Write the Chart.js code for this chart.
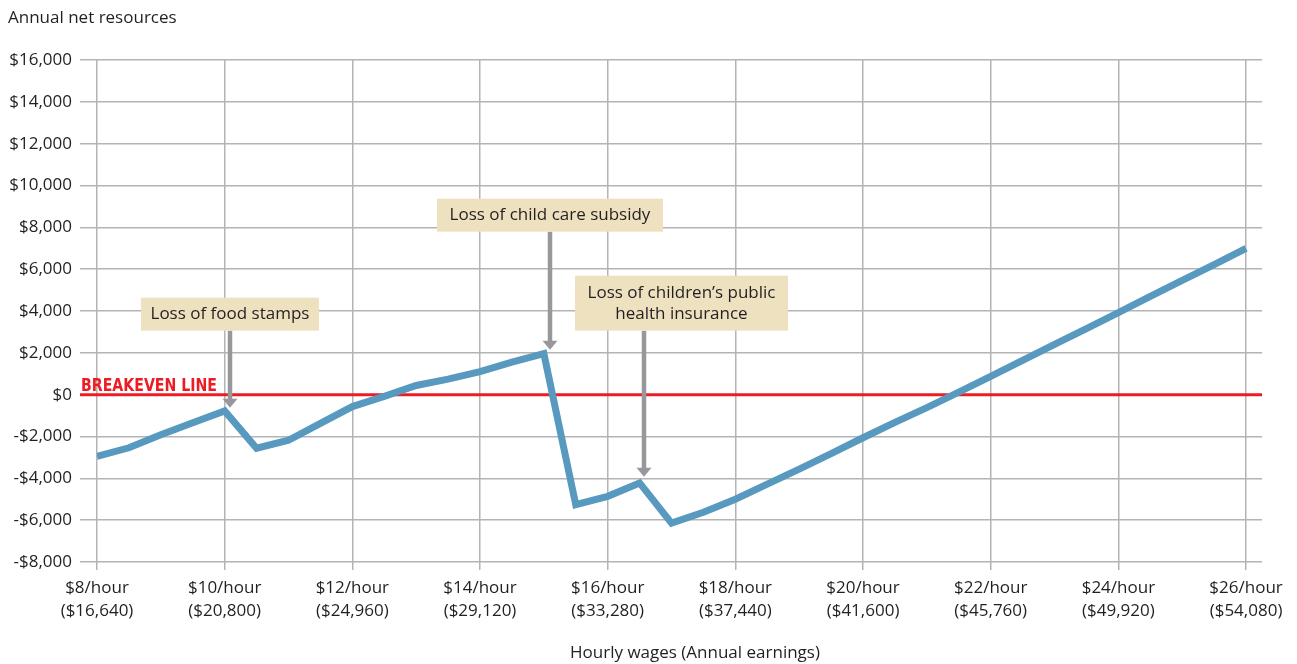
<!DOCTYPE html>
<html>
<head>
<meta charset="utf-8">
<script src="https://cdn.jsdelivr.net/npm/chart.js@4"></script>
<style>
  html, body { margin: 0; padding: 0; background: #ffffff; }
  #wrap { width: 1297px; height: 664px; position: relative; }
</style>
</head>
<body>
<div id="wrap"><canvas id="c"></canvas></div>
<script>
// ---- data ----
const hourlyWages = [8, 8.5, 9, 9.5, 10, 10.5, 11, 11.5, 12, 12.5, 13, 13.5, 14, 14.5, 15, 15.5, 16, 16.5, 17, 17.5, 18,
  18.5, 19, 19.5, 20, 20.5, 21, 21.5, 22, 22.5, 23, 23.5, 24, 24.5, 25, 25.5, 26];
const netResources = [-2950, -2540, -1920, -1340, -780, -2560, -2180, -1370, -570, -80, 440, 740, 1100, 1560, 1960,
  -5260, -4860, -4220, -6140, -5620, -5000, -4280, -3560, -2820, -2060, -1320, -620, 120, 880, 1640, 2400, 3160, 3920,
  4700, 5460, 6220, 6990];

const xTickValues = [8, 10, 12, 14, 16, 18, 20, 22, 24, 26];
const xTickHourLabels = ['$8/hour', '$10/hour', '$12/hour', '$14/hour', '$16/hour', '$18/hour', '$20/hour', '$22/hour', '$24/hour', '$26/hour'];
const xTickAnnualLabels = ['($16,640)', '($20,800)', '($24,960)', '($29,120)', '($33,280)', '($37,440)', '($41,600)', '($45,760)', '($49,920)', '($54,080)'];

const yTickValues = [-8000, -6000, -4000, -2000, 0, 2000, 4000, 6000, 8000, 10000, 12000, 14000, 16000];
const yTickLabels = ['-$8,000', '-$6,000', '-$4,000', '-$2,000', '$0', '$2,000', '$4,000', '$6,000', '$8,000', '$10,000', '$12,000', '$14,000', '$16,000'];

const yAxisTitle = 'Annual net resources';
const xAxisTitle = 'Hourly wages (Annual earnings)';
const breakevenLabel = 'BREAKEVEN LINE';
const breakevenValue = 0;

// annotation: arrow x (wage), arrow tip (value), box top/bottom (value), box centre x (wage)
const annotationTexts = [['Loss of food stamps'], ['Loss of child care subsidy'], ['Loss of children\u2019s public', 'health insurance']];
const annotationArrowX = [10.083, 15.096, 16.568];
const annotationTipY = [-620, 2150, -3920];
const annotationBoxTop = [4637, 9370, 5689];
const annotationBoxBottom = [3060, 7793, 3060];
const annotationBoxCenterX = [10.083, 15.096, 17.156];
const annotationBoxWidth = [178, 226, 213];

// ---- styling ----
const FONT = '"Open Sans", "Liberation Sans", sans-serif';
const TEXT = '#231f20';
const GRID = '#b4b4b4';

const points = hourlyWages.map((w, i) => ({ x: w, y: netResources[i] }));

const overlay = {
  id: 'overlay',
  beforeDatasetsDraw(chart) {
    const { ctx, chartArea, scales } = chart;
    const y0 = scales.y.getPixelForValue(breakevenValue);
    ctx.save();
    ctx.strokeStyle = '#ed1c24';
    ctx.lineWidth = 3;
    ctx.beginPath();
    ctx.moveTo(chartArea.left - 17, y0);
    ctx.lineTo(chartArea.right, y0);
    ctx.stroke();
    // label
    ctx.font = 'bold 17px "Liberation Sans Narrow", "DejaVu Sans Condensed", "Liberation Sans", sans-serif';
    const w = ctx.measureText(breakevenLabel).width;
    const target = 136;
    ctx.translate(chartArea.left - 16, y0 - 4);
    ctx.scale(target / w, 1);
    ctx.fillStyle = '#ed1c24';
    ctx.textAlign = 'left';
    ctx.textBaseline = 'alphabetic';
    ctx.fillText(breakevenLabel, 0, 0);
    ctx.restore();
  },
  afterDatasetsDraw(chart) {
    const { ctx, scales } = chart;
    const xs = scales.x, ys = scales.y;
    ctx.save();
    annotationTexts.forEach((lines, i) => {
      const ax = Math.round(xs.getPixelForValue(annotationArrowX[i]));
      const tip = ys.getPixelForValue(annotationTipY[i]);
      const top = ys.getPixelForValue(annotationBoxTop[i]);
      const bot = ys.getPixelForValue(annotationBoxBottom[i]);
      const cx = xs.getPixelForValue(annotationBoxCenterX[i]);
      const bw = annotationBoxWidth[i];
      // arrow
      ctx.strokeStyle = '#98989c';
      ctx.fillStyle = '#98989c';
      ctx.lineWidth = 4.5;
      ctx.beginPath();
      ctx.moveTo(ax, bot);
      ctx.lineTo(ax, tip - 8);
      ctx.stroke();
      ctx.beginPath();
      ctx.moveTo(ax - 7.5, tip - 9);
      ctx.lineTo(ax + 7.5, tip - 9);
      ctx.lineTo(ax, tip);
      ctx.closePath();
      ctx.fill();
      // box
      ctx.fillStyle = '#ede1c0';
      ctx.fillRect(cx - bw / 2, top, bw, bot - top);
      ctx.fillStyle = TEXT;
      ctx.font = '17px ' + FONT;
      ctx.textAlign = 'center';
      ctx.textBaseline = 'middle';
      const lh = 21;
      const mid = (top + bot) / 2;
      lines.forEach((t, k) => {
        ctx.fillText(t, cx, mid + (k - (lines.length - 1) / 2) * lh);
      });
    });
    // axis titles
    ctx.fillStyle = TEXT;
    ctx.font = '17px ' + FONT;
    ctx.textAlign = 'left';
    ctx.textBaseline = 'alphabetic';
    ctx.fillText(yAxisTitle, 8, 23);
    ctx.textAlign = 'center';
    ctx.fillText(xAxisTitle, 695, 658);
    ctx.restore();
  }
};

new Chart(document.getElementById('c'), {
  type: 'line',
  data: {
    datasets: [{
      data: points,
      borderColor: '#5899bf',
      borderWidth: 7,
      borderJoinStyle: 'miter',
      borderCapStyle: 'butt',
      pointRadius: 0,
      pointHoverRadius: 0,
      tension: 0,
      fill: false
    }]
  },
  options: {
    responsive: true,
    maintainAspectRatio: false,
    animation: false,
    events: [],
    layout: { padding: { left: 0, right: 35, top: 60, bottom: 0 } },
    plugins: { legend: { display: false }, tooltip: { enabled: false }, title: { display: false } },
    scales: {
      x: {
        type: 'linear',
        min: 8,
        max: 26.25,
        afterFit(scale) { scale.height = 102; },
        afterBuildTicks(scale) { scale.ticks = xTickValues.map(v => ({ value: v })); },
        border: { display: false },
        grid: { color: GRID, lineWidth: 1.5, tickLength: 8, drawTicks: true },
        ticks: {
          padding: 7,
          color: TEXT,
          font: { family: FONT, size: 17, lineHeight: 1.35 },
          maxRotation: 0,
          autoSkip: false,
          callback(v) {
            const i = xTickValues.indexOf(v);
            return i >= 0 ? [xTickHourLabels[i], xTickAnnualLabels[i]] : '';
          }
        }
      },
      y: {
        type: 'linear',
        min: -8000,
        max: 16000,
        afterFit(scale) { scale.width = 97; },
        afterBuildTicks(scale) { scale.ticks = yTickValues.map(v => ({ value: v })); },
        border: { display: false },
        grid: { color: GRID, lineWidth: 1.5, tickLength: 17, drawTicks: true },
        ticks: {
          padding: 8,
          color: TEXT,
          font: { family: FONT, size: 17 },
          autoSkip: false,
          callback(v) {
            const i = yTickValues.indexOf(v);
            return i >= 0 ? yTickLabels[i] : '';
          }
        }
      }
    }
  },
  plugins: [overlay]
});
</script>
</body>
</html>
